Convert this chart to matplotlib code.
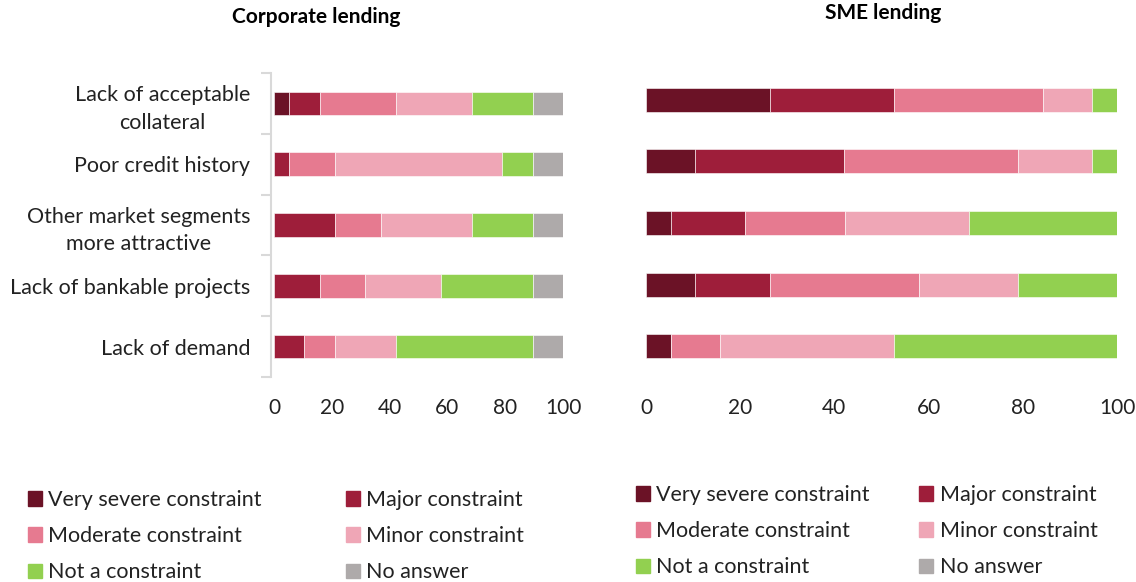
import matplotlib
matplotlib.use("Agg")
import matplotlib.pyplot as plt
import numpy as np
from matplotlib.patches import Patch

plt.rcParams['font.family'] = ['Lato', 'DejaVu Sans']

categories = ["Lack of acceptable\ncollateral", "Poor credit history",
              "Other market segments\nmore attractive", "Lack of bankable projects",
              "Lack of demand"]
series = ["Very severe constraint", "Major constraint", "Moderate constraint",
          "Minor constraint", "Not a constraint", "No answer"]
colors = ["#6B1226", "#9E1E3A", "#E67A90", "#EFA6B6", "#92D050", "#AEAAAA"]

# percentages per category, one list per series
corp = [
    [5.3, 0, 0, 0, 0],
    [10.5, 5.3, 21.1, 15.8, 10.5],
    [26.3, 15.8, 15.8, 15.8, 10.5],
    [26.3, 57.9, 31.6, 26.3, 21.1],
    [21.1, 10.5, 21.1, 31.6, 47.4],
    [10.5, 10.5, 10.5, 10.5, 10.5],
]
sme = [
    [26.3, 10.5, 5.3, 10.5, 5.3],
    [26.3, 31.6, 15.8, 15.8, 0],
    [31.6, 36.8, 21.1, 31.6, 10.5],
    [10.5, 15.8, 26.3, 21.1, 36.8],
    [5.3, 5.3, 31.6, 21.1, 47.4],
    [0, 0, 0, 0, 0],
]

W, H = 1136, 582
fig = plt.figure(figsize=(W / 100, H / 100), dpi=100)


def px_axes(x0, x1, ytop, ybot):
    return fig.add_axes([x0 / W, 1 - ybot / H, (x1 - x0) / W, (ybot - ytop) / H])


def draw(ax, data):
    y = np.arange(len(categories))
    left = np.zeros(len(categories))
    for vals, c, name in zip(data, colors, series):
        ax.barh(y, vals, left=left, height=0.39, color=c, label=name,
                edgecolor='white', linewidth=0.4)
        left += np.array(vals)
    ax.set_xlim(0, 100)
    ax.set_ylim(len(categories) - 0.5, -0.5)
    ax.set_xticks(range(0, 101, 20))
    ax.tick_params(axis='x', length=0, pad=15, labelsize=15, colors='#222222')
    for s in ['top', 'right', 'bottom']:
        ax.spines[s].set_visible(False)


ax1 = px_axes(274, 563, 73, 377)
draw(ax1, corp)
ax1.spines['left'].set_color('#D9D9D9')
ax1.spines['left'].set_linewidth(1.5)
ax1.spines['left'].set_position(('outward', 2))
ax1.set_yticks(np.arange(len(categories) + 1) - 0.5)
ax1.set_yticklabels([])
ax1.tick_params(axis='y', which='major', length=7, width=1.5, color='#D9D9D9')
ax1.set_yticks(np.arange(len(categories)), minor=True)
ax1.set_yticklabels(categories, minor=True, fontsize=15.5, color='#222222',
                    multialignment='center', linespacing=1.45)
ax1.tick_params(axis='y', which='minor', length=0, pad=15)

ax2 = px_axes(646, 1117, 69, 377)
draw(ax2, sme)
ax2.spines['left'].set_visible(False)
ax2.set_yticks([])

fig.text(316 / W, 1 - 17 / H, "Corporate lending", ha='center', va='center',
         fontsize=15, fontweight='bold')
fig.text(883 / W, 1 - 13 / H, "SME lending", ha='center', va='center',
         fontsize=15, fontweight='bold')

order = [0, 2, 4, 1, 3, 5]
handles = [Patch(color=colors[i]) for i in order]
labels = [series[i] for i in order]
kw = dict(ncol=2, frameon=False, fontsize=15.5, handlelength=0.65, handleheight=0.65,
          handletextpad=0.3, labelspacing=0.75, borderaxespad=0, borderpad=0,
          labelcolor='#222222')
fig.legend(handles, labels, loc='upper left', bbox_to_anchor=(28 / W, 1 - 490 / H),
           columnspacing=3.9, **kw)
fig.legend(handles, labels, loc='upper left', bbox_to_anchor=(636 / W, 1 - 485 / H),
           columnspacing=2.3, **kw)

fig.savefig("out.png", dpi=100)
